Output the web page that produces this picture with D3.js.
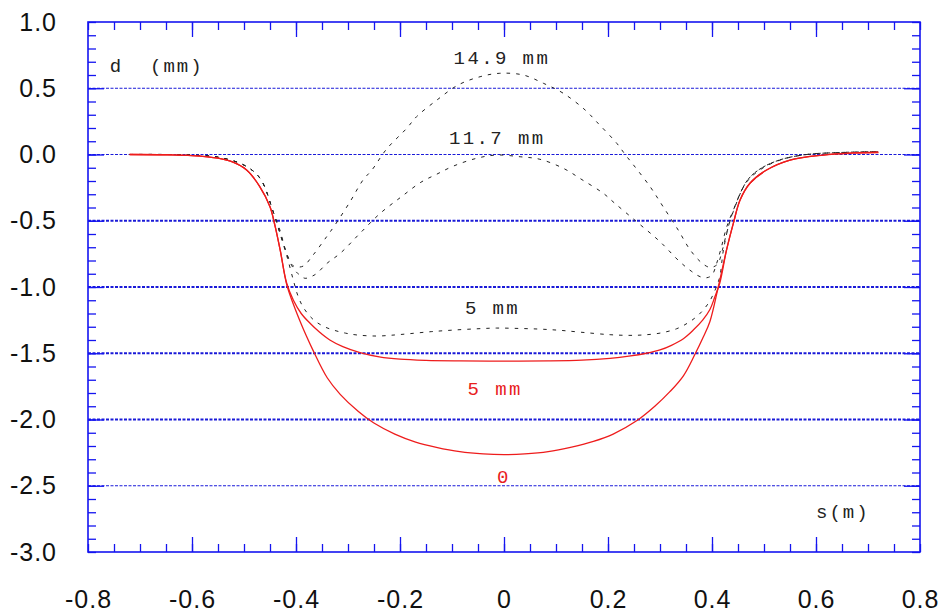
<!DOCTYPE html>
<html><head><meta charset="utf-8">
<script src="https://cdn.jsdelivr.net/npm/d3@7"></script>
<style>
html,body{margin:0;padding:0;background:#fff;}
svg{display:block;}
</style></head>
<body>
<svg id="chart" width="944" height="612"></svg>
<script>
// ---------- data (s in m, d in mm) ----------
const red0 = [[-0.72,0.0],[-0.65,-0.002],[-0.6,-0.008],[-0.55,-0.028],[-0.52,-0.06],[-0.495,-0.117],[-0.47,-0.24],[-0.45,-0.394],[-0.44,-0.545],[-0.43,-0.73],[-0.418,-0.98],[-0.405,-1.13],[-0.392,-1.26],[-0.38,-1.37],[-0.367,-1.48],[-0.34,-1.685],[-0.315,-1.81],[-0.28,-1.94],[-0.251,-2.025],[-0.21,-2.11],[-0.17,-2.17],[-0.13,-2.21],[-0.085,-2.243],[-0.04,-2.26],[0.0,-2.265],[0.04,-2.26],[0.085,-2.243],[0.13,-2.208],[0.172,-2.165],[0.21,-2.11],[0.255,-2.01],[0.29,-1.9],[0.319,-1.79],[0.345,-1.67],[0.367,-1.51],[0.383,-1.38],[0.396,-1.26],[0.412,-1.0],[0.428,-0.72],[0.441,-0.52],[0.454,-0.343],[0.473,-0.217],[0.505,-0.117],[0.55,-0.042],[0.614,-0.004],[0.67,0.01],[0.72,0.015]];
const red5 = [[-0.72,0.0],[-0.65,-0.002],[-0.6,-0.008],[-0.55,-0.028],[-0.52,-0.06],[-0.495,-0.117],[-0.47,-0.24],[-0.45,-0.394],[-0.44,-0.545],[-0.43,-0.73],[-0.418,-0.97],[-0.405,-1.10],[-0.39,-1.20],[-0.373,-1.274],[-0.355,-1.34],[-0.335,-1.40],[-0.31,-1.45],[-0.277,-1.495],[-0.24,-1.527],[-0.2,-1.545],[-0.15,-1.554],[-0.085,-1.558],[0.0,-1.56],[0.085,-1.558],[0.15,-1.552],[0.204,-1.538],[0.24,-1.522],[0.274,-1.50],[0.30,-1.475],[0.322,-1.44],[0.345,-1.39],[0.364,-1.325],[0.382,-1.25],[0.396,-1.17],[0.405,-1.08],[0.415,-0.97],[0.428,-0.72],[0.441,-0.52],[0.454,-0.343],[0.473,-0.217],[0.505,-0.117],[0.55,-0.042],[0.614,-0.004],[0.67,0.012],[0.72,0.018]];
const black5 = [[-0.72,0.0],[-0.65,0.0],[-0.6,-0.005],[-0.55,-0.02],[-0.5,-0.08],[-0.469,-0.18],[-0.444,-0.43],[-0.431,-0.595],[-0.418,-0.76],[-0.405,-0.95],[-0.396,-1.07],[-0.385,-1.16],[-0.367,-1.245],[-0.348,-1.295],[-0.328,-1.325],[-0.305,-1.348],[-0.283,-1.362],[-0.245,-1.37],[-0.21,-1.362],[-0.181,-1.352],[-0.14,-1.337],[-0.097,-1.325],[-0.05,-1.315],[-0.014,-1.31],[0.03,-1.313],[0.07,-1.318],[0.108,-1.327],[0.15,-1.342],[0.204,-1.36],[0.24,-1.365],[0.267,-1.362],[0.3,-1.348],[0.332,-1.315],[0.354,-1.27],[0.374,-1.211],[0.393,-1.123],[0.406,-1.023],[0.415,-0.922],[0.422,-0.72],[0.437,-0.47],[0.465,-0.217],[0.492,-0.117],[0.531,-0.042],[0.582,0.0],[0.646,0.014],[0.72,0.021]];
const black117 = [[-0.72,0.0],[-0.65,0.0],[-0.6,-0.005],[-0.55,-0.02],[-0.5,-0.08],[-0.469,-0.18],[-0.444,-0.43],[-0.431,-0.59],[-0.418,-0.75],[-0.408,-0.84],[-0.396,-0.9],[-0.383,-0.934],[-0.37,-0.92],[-0.36,-0.897],[-0.34,-0.82],[-0.315,-0.746],[-0.277,-0.595],[-0.238,-0.444],[-0.197,-0.318],[-0.16,-0.21],[-0.13,-0.15],[-0.097,-0.087],[-0.053,-0.029],[-0.014,-0.004],[0.031,-0.017],[0.069,-0.036],[0.114,-0.104],[0.15,-0.19],[0.191,-0.293],[0.213,-0.368],[0.255,-0.507],[0.3,-0.658],[0.338,-0.809],[0.36,-0.88],[0.377,-0.922],[0.39,-0.93],[0.4,-0.91],[0.409,-0.821],[0.418,-0.70],[0.428,-0.55],[0.441,-0.42],[0.467,-0.2],[0.492,-0.11],[0.531,-0.04],[0.582,0.0],[0.646,0.015],[0.72,0.022]];
const black149 = [[-0.72,0.0],[-0.65,0.0],[-0.6,-0.005],[-0.55,-0.02],[-0.5,-0.08],[-0.469,-0.18],[-0.444,-0.43],[-0.431,-0.57],[-0.418,-0.746],[-0.408,-0.83],[-0.402,-0.847],[-0.386,-0.842],[-0.367,-0.758],[-0.341,-0.62],[-0.325,-0.532],[-0.296,-0.356],[-0.271,-0.192],[-0.254,-0.117],[-0.226,0.04],[-0.187,0.198],[-0.168,0.286],[-0.129,0.411],[-0.088,0.525],[-0.046,0.587],[-0.008,0.613],[0.037,0.6],[0.076,0.537],[0.114,0.462],[0.156,0.336],[0.181,0.235],[0.217,0.084],[0.233,0.0],[0.249,-0.079],[0.281,-0.243],[0.306,-0.394],[0.335,-0.57],[0.358,-0.72],[0.38,-0.817],[0.396,-0.852],[0.41,-0.83],[0.42,-0.72],[0.428,-0.595],[0.441,-0.43],[0.467,-0.2],[0.492,-0.11],[0.531,-0.04],[0.582,0.0],[0.646,0.015],[0.72,0.022]];

const xTickValues = [-0.8,-0.6,-0.4,-0.2,0,0.2,0.4,0.6,0.8];
const xTickLabels = ["-0.8","-0.6","-0.4","-0.2","0","0.2","0.4","0.6","0.8"];
const yTickValues = [1.0,0.5,0.0,-0.5,-1.0,-1.5,-2.0,-2.5,-3.0];
const yTickLabels = ["1.0","0.5","0.0","-0.5","-1.0","-1.5","-2.0","-2.5","-3.0"];
const gridValues = [0.5,0.0,-0.5,-1.0,-1.5,-2.0,-2.5];

const curveLabels = [
  {text:"14.9 mm", s:-0.004, d:0.683, color:"#222"},
  {text:"11.7 mm", s:-0.013, d:0.08, color:"#222"},
  {text:"5 mm",    s:-0.022, d:-1.2, color:"#222"},
  {text:"5 mm",    s:-0.017, d:-1.815, color:"#e8201c"},
  {text:"0",       s:0.0,    d:-2.482, color:"#e8201c"}
];

// ---------- drawing ----------
const svg = d3.select("#chart");
const L=88, R=920, T=22, B=552;
const x = d3.scaleLinear().domain([-0.8,0.8]).range([L,R]);
const y = d3.scaleLinear().domain([-3,1]).range([B,T]);
const blue = "#1515f0";

// grid lines
svg.append("g").selectAll("line").data(gridValues).join("line")
  .attr("x1",L).attr("x2",R)
  .attr("y1",d=>y(d)).attr("y2",d=>y(d))
  .attr("stroke","#1a1ad8")
  .attr("stroke-width",d=>(d<=-0.5 && d>=-2.0)?1.8:1)
  .attr("stroke-dasharray","3,1.5");

// minor / major ticks via axes (inward)
const yMinor = d3.range(-3,1.0001,0.1).map(v=>+v.toFixed(2));
const yMajor = [0.5,0.0,-0.5,-1.0,-1.5,-2.0,-2.5];
const xMinor = d3.range(-0.8,0.8001,0.05).map(v=>+v.toFixed(2));
const xMajor = [-0.6,-0.4,-0.2,0,0.2,0.4,0.6];

function styleAxis(g){
  g.select(".domain").remove();
  g.selectAll("line").attr("stroke",blue).attr("stroke-width",1.3);
}
svg.append("g").attr("transform",`translate(${L},0)`).call(d3.axisLeft(y).tickValues(yMinor).tickSize(-8).tickFormat("")).call(styleAxis);
svg.append("g").attr("transform",`translate(${L},0)`).call(d3.axisLeft(y).tickValues(yMajor).tickSize(-16).tickFormat("")).call(styleAxis);
svg.append("g").attr("transform",`translate(${R},0)`).call(d3.axisRight(y).tickValues(yMinor).tickSize(-8).tickFormat("")).call(styleAxis);
svg.append("g").attr("transform",`translate(${R},0)`).call(d3.axisRight(y).tickValues(yMajor).tickSize(-16).tickFormat("")).call(styleAxis);
svg.append("g").attr("transform",`translate(0,${B})`).call(d3.axisBottom(x).tickValues(xMinor).tickSize(-8).tickFormat("")).call(styleAxis);
svg.append("g").attr("transform",`translate(0,${B})`).call(d3.axisBottom(x).tickValues(xMajor).tickSize(-15).tickFormat("")).call(styleAxis);
svg.append("g").attr("transform",`translate(0,${T})`).call(d3.axisTop(x).tickValues(xMinor).tickSize(-8).tickFormat("")).call(styleAxis);
svg.append("g").attr("transform",`translate(0,${T})`).call(d3.axisTop(x).tickValues(xMajor).tickSize(-15).tickFormat("")).call(styleAxis);

// tick labels
const lblFont = "'Liberation Sans', Arial, sans-serif";
const yAx = svg.append("g").attr("transform",`translate(${L},0)`)
  .call(d3.axisLeft(y).tickValues(yTickValues).tickSize(0).tickPadding(31)
    .tickFormat((d,i)=>yTickLabels[i]));
yAx.select(".domain").remove();
yAx.selectAll("text").attr("font-family",lblFont).attr("font-size",25).attr("fill","#111").attr("letter-spacing","1px");
const xAx = svg.append("g").attr("transform",`translate(0,${B})`)
  .call(d3.axisBottom(x).tickValues(xTickValues).tickSize(0).tickPadding(38)
    .tickFormat((d,i)=>xTickLabels[i]));
xAx.select(".domain").remove();
xAx.selectAll("text").attr("font-family",lblFont).attr("font-size",25).attr("fill","#111").attr("letter-spacing","1px");

// curves
const line = d3.line().x(d=>x(d[0])).y(d=>y(d[1])).curve(d3.curveCatmullRom.alpha(0.5));
const series = [
  {data:black149, color:"#222", dash:"3.5,6", w:1},
  {data:black117, color:"#222", dash:"3.5,6", w:1},
  {data:black5,   color:"#222", dash:"3.5,6", w:1},
  {data:red5,     color:"#ee1c1c", dash:null, w:1.3},
  {data:red0,     color:"#ee1c1c", dash:null, w:1.3}
];
svg.append("g").selectAll("path").data(series).join("path")
  .attr("d",d=>line(d.data)).attr("fill","none")
  .attr("stroke",d=>d.color).attr("stroke-width",d=>d.w)
  .attr("stroke-dasharray",d=>d.dash);

// frame
svg.append("rect").attr("x",L).attr("y",T).attr("width",R-L).attr("height",B-T)
  .attr("fill","none").attr("stroke",blue).attr("stroke-width",1.6);

// annotations
const monoFont = "'Liberation Mono', 'DejaVu Sans Mono', monospace";
svg.append("g").selectAll("text").data(curveLabels).join("text")
  .attr("x",d=>x(d.s)).attr("y",d=>y(d.d)).attr("text-anchor","middle")
  .attr("font-family",monoFont).attr("font-size",19).attr("letter-spacing","2.4px")
  .attr("fill",d=>d.color).text(d=>d.text);
svg.append("text").attr("x",x(-0.758)).attr("y",y(0.62))
  .attr("font-family",monoFont).attr("font-size",19).attr("letter-spacing","2px")
  .attr("fill","#222").attr("xml:space","preserve").style("white-space","pre").text("d  (mm)");
svg.append("text").attr("x",x(0.6)).attr("y",y(-2.74))
  .attr("font-family",monoFont).attr("font-size",19).attr("letter-spacing","2px")
  .attr("fill","#222").text("s(m)");
</script>
</body></html>
